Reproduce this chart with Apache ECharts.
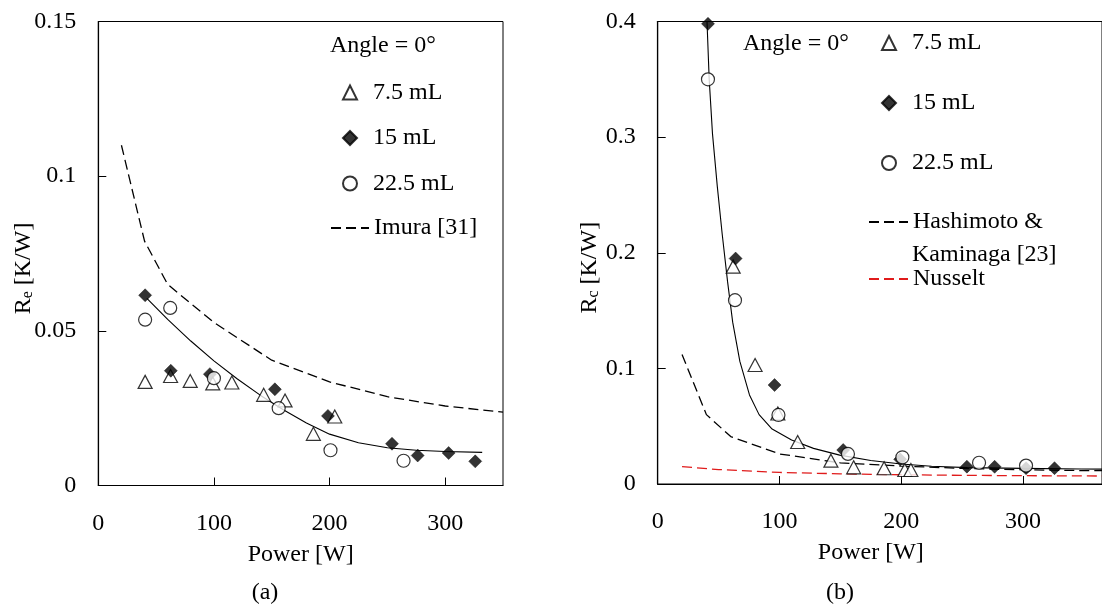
<!DOCTYPE html>
<html>
<head>
<meta charset="utf-8">
<script src="https://cdn.jsdelivr.net/npm/echarts@6/dist/echarts.min.js"></script>
<style>
html,body{margin:0;padding:0;background:#fff;}
#chart{width:1102px;height:607px;}
</style>
</head>
<body>
<div id="chart"></div>
<script>
// ---------- Panel (a): Re ----------
const aP75  = [40.5, 62.5, 79.5, 99, 115.5, 143, 161.5, 186, 204.5];
const aR75  = [0.0335, 0.0354, 0.0338, 0.0330, 0.0333, 0.0293, 0.0275, 0.0167, 0.0223];
const aP15  = [40.5, 62.7, 96.5, 152.7, 198.6, 254, 276.2, 303, 326];
const aR15  = [0.0615, 0.0371, 0.0360, 0.0311, 0.0225, 0.0135, 0.0097, 0.0105, 0.0078];
const aP225 = [40.5, 62.2, 100, 156, 200.8, 264];
const aR225 = [0.0536, 0.0574, 0.0347, 0.0250, 0.0114, 0.0080];
const aFitP = [42, 60, 80, 100, 120, 140, 160, 180, 200, 225, 250, 275, 300, 332];
const aFitR = [0.0605, 0.0537, 0.0467, 0.0403, 0.0345, 0.0292, 0.0245, 0.0202, 0.0166, 0.0138, 0.0122, 0.0114, 0.0110, 0.0107];
const imuraP = [20, 40, 60, 100, 150, 200, 250, 300, 350];
const imuraR = [0.110, 0.079, 0.065, 0.0527, 0.0405, 0.0335, 0.0287, 0.0257, 0.0237];

// ---------- Panel (b): Rc ----------
const bP75  = [62, 80, 98.7, 115, 142.3, 161, 186, 203, 208];
const bR75  = [0.188, 0.1029, 0.061, 0.0363, 0.0202, 0.0144, 0.0136, 0.0121, 0.0121];
const bP15  = [41.3, 64, 96, 152.4, 199.2, 254, 276.8, 302.6, 326];
const bR15  = [0.398, 0.195, 0.0856, 0.0294, 0.0213, 0.0150, 0.0149, 0.0137, 0.0137];
const bP225 = [41.3, 63.5, 99.2, 156.3, 201, 264, 302.6];
const bR225 = [0.350, 0.159, 0.0597, 0.026, 0.0231, 0.0184, 0.0159];
const bFitP = [40.5, 42.3, 45, 49, 53, 57.4, 61.6, 67.5, 75.4, 83.3, 94, 110, 128, 149.5, 175, 200, 225, 254.5, 300, 348, 365];
const bFitR = [0.400, 0.350, 0.303, 0.257, 0.216, 0.175, 0.140, 0.106, 0.0770, 0.0600, 0.0475, 0.0380, 0.0308, 0.0250, 0.0203, 0.0173, 0.0154, 0.0142, 0.0135, 0.0130, 0.0129];
const hashP = [20, 40, 60, 100, 150, 200, 250, 300, 350, 365];
const hashR = [0.112, 0.060, 0.041, 0.026, 0.0183, 0.0155, 0.0135, 0.0123, 0.0116, 0.0115];
const nussP = [20, 50, 100, 150, 200, 250, 300, 365];
const nussR = [0.0150, 0.0125, 0.0100, 0.0088, 0.0080, 0.0075, 0.0072, 0.0069];

const names = ['7.5 mL', '15 mL', '22.5 mL'];
const imuraName = 'Imura [31]';
const hashName = 'Hashimoto & Kaminaga [23]';
const nussName = 'Nusselt';

const FONT = 'Liberation Serif';
const zip = (xs, ys) => xs.map((x, i) => [x, ys[i]]);

const triStyle = { symbol: 'triangle', symbolSize: [14, 13], itemStyle: { color: '#fff', borderColor: '#000', borderWidth: 1.2 } };
const diaStyle = { symbol: 'diamond', symbolSize: 13, itemStyle: { color: '#000', borderColor: '#000', borderWidth: 0.5 } };
const cirStyle = { symbol: 'circle', symbolSize: 13, itemStyle: { color: '#fff', borderColor: '#000', borderWidth: 1.2 } };

function scatter(name, data, st, idx) {
  return Object.assign({ type: 'scatter', name: name, data: data, xAxisIndex: idx, yAxisIndex: idx, z: 5 }, st);
}
function line(name, data, idx, color, dashed) {
  return {
    type: 'line', name: name, data: data, xAxisIndex: idx, yAxisIndex: idx,
    symbol: 'none', smooth: false, z: 3,
    lineStyle: { color: color, width: dashed ? 1.3 : 1.1, type: dashed ? [10, 5] : 'solid' },
    itemStyle: { color: color }
  };
}

const axisText = { fontFamily: FONT, fontSize: 24, color: '#000' };

function xAxisCfg(idx, max) {
  return {
    type: 'value', gridIndex: idx, min: 0, max: max, interval: 100,
    name: 'Power [W]', nameLocation: 'middle', nameGap: 57,
    nameTextStyle: Object.assign({}, axisText, idx === 1 ? { padding: [0, 18, 0, 0] } : {}),
    axisLine: { show: true, lineStyle: { color: '#000', width: 1.2 } },
    axisTick: { show: true, inside: true, length: 8, lineStyle: { color: '#000' } },
    axisLabel: Object.assign({ margin: 26, showMaxLabel: false }, axisText),
    splitLine: { show: false }
  };
}
function yAxisCfg(idx, max, interval, sub, gap) {
  return {
    type: 'value', gridIndex: idx, min: 0, max: max, interval: interval,
    name: '{r|R}{s|' + sub + '}{r| [K/W]}', nameLocation: 'middle', nameRotate: 90, nameGap: gap,
    nameMoveOverlap: false,
    nameTextStyle: {
      fontFamily: FONT, fontSize: 24, color: '#000', padding: [0, 30, 0, 0],
      rich: {
        r: { fontFamily: FONT, fontSize: 24, color: '#000', lineHeight: 24, verticalAlign: 'top' },
        s: { fontFamily: FONT, fontSize: 16, color: '#000', lineHeight: 16, verticalAlign: 'bottom' }
      }
    },
    axisLine: { show: true, lineStyle: { color: '#000', width: 1.2 } },
    axisTick: { show: true, inside: true, length: 8, lineStyle: { color: '#000' } },
    axisLabel: Object.assign({ margin: 22 }, axisText),
    splitLine: { show: false }
  };
}

const legendText = { fontFamily: FONT, fontSize: 24, color: '#000', lineHeight: 24 };
function symLegend(left, top, gap) {
  return { data: names, orient: 'vertical', left: left, top: top, padding: 0,
    itemWidth: 14, itemHeight: 14, itemGap: gap, selectedMode: false,
    textStyle: Object.assign({ padding: [0, 0, 0, 11] }, legendText) };
}
function lineLegend(name, left, top, width, fmt) {
  const l = { data: [name], orient: 'vertical', left: left, top: top, padding: 0,
    itemWidth: width, itemHeight: 14, selectedMode: false,
    itemStyle: { opacity: 0 }, textStyle: legendText };
  if (fmt) l.formatter = fmt;
  return l;
}

const option = {
  animation: false,
  backgroundColor: '#fff',
  grid: [
    { left: 98.3, top: 21.5, width: 404.7, height: 464, show: true, borderColor: '#000', borderWidth: 1, backgroundColor: 'transparent' },
    { left: 657.7, top: 21.5, width: 446, height: 462.5, show: true, borderColor: '#000', borderWidth: 1, backgroundColor: 'transparent' }
  ],
  xAxis: [xAxisCfg(0, 350), xAxisCfg(1, 365)],
  yAxis: [yAxisCfg(0, 0.15, 0.05, 'e', 63), yAxisCfg(1, 0.4, 0.1, 'c', 56)],
  legend: [
    symLegend(342, 80.5, 21.5),
    lineLegend(imuraName, 330, 216, 38),
    symLegend(881, 31, 36),
    lineLegend(hashName, 868, 210, 39, function () { return 'Hashimoto &'; }),
    lineLegend(nussName, 868, 267, 39)
  ],
  graphic: [
    { type: 'text', left: 330, top: 34, style: { text: 'Angle = 0°', fontFamily: FONT, fontSize: 24, fill: '#000' } },
    { type: 'text', left: 743, top: 32, style: { text: 'Angle = 0°', fontFamily: FONT, fontSize: 24, fill: '#000' } },
    { type: 'text', x: 912, y: 255, style: { text: 'Kaminaga [23]', fontFamily: FONT, fontSize: 24, fill: '#000', align: 'left', verticalAlign: 'middle' } },
    { type: 'text', x: 265, y: 593, style: { text: '(a)', fontFamily: FONT, fontSize: 24, fill: '#000', align: 'center', verticalAlign: 'middle' } },
    { type: 'text', x: 840, y: 593, style: { text: '(b)', fontFamily: FONT, fontSize: 24, fill: '#000', align: 'center', verticalAlign: 'middle' } }
  ],
  series: [
    line(imuraName, zip(imuraP, imuraR), 0, '#000', true),
    line('fit a', zip(aFitP, aFitR), 0, '#000', false),
    scatter(names[0], zip(aP75, aR75), triStyle, 0),
    scatter(names[1], zip(aP15, aR15), diaStyle, 0),
    scatter(names[2], zip(aP225, aR225), cirStyle, 0),

    line(hashName, zip(hashP, hashR), 1, '#000', true),
    line(nussName, zip(nussP, nussR), 1, '#e01b1b', true),
    line('fit b', zip(bFitP, bFitR), 1, '#000', false),
    scatter(names[0], zip(bP75, bR75), triStyle, 1),
    scatter(names[1], zip(bP15, bR15), diaStyle, 1),
    scatter(names[2], zip(bP225, bR225), cirStyle, 1)
  ]
};

const chart = echarts.init(document.getElementById('chart'), null, { renderer: 'canvas' });
chart.setOption(option);
</script>
</body>
</html>
